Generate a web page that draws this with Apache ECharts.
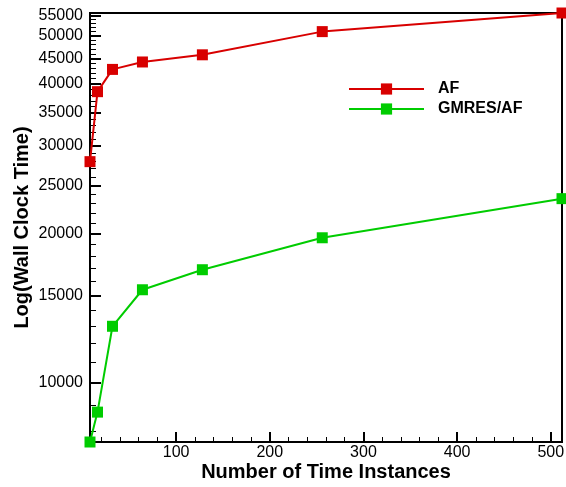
<!DOCTYPE html>
<html>
<head>
<meta charset="utf-8">
<script src="https://cdn.jsdelivr.net/npm/echarts@6/dist/echarts.min.js"></script>
<style>
  html, body { margin: 0; padding: 0; background: #fff; }
  #chart { width: 566px; height: 487px; }
</style>
</head>
<body>
<div id="chart"></div>
<script>
// Number of time instances (x) and wall clock time for each solver (log y)
const timeInstances = [8, 16, 32, 64, 128, 256, 512];
const afTimes = [27900, 38600, 42800, 44300, 45800, 51000, 55600];
const gmresAfTimes = [7600, 8730, 13000, 15400, 16900, 19600, 23500];

const seriesNames = ['AF', 'GMRES/AF'];
const seriesColors = ['#d80000', '#00cc00'];

// Axis ticks and labels
const xMajorTicks = [100, 200, 300, 400, 500];
const xMinorTicks = [20, 40, 60, 80, 120, 140, 160, 180, 220, 240, 260, 280,
  320, 340, 360, 380, 420, 440, 460, 480];
const yMajorTicks = [10000, 15000, 20000, 25000, 30000, 35000, 40000, 45000, 50000, 55000];
const yMinorTicks = [8000, 9000, 11000, 12000, 13000, 14000, 16000, 17000, 18000, 19000,
  21000, 22000, 23000, 24000, 26000, 27000, 28000, 29000, 31000, 32000, 33000, 34000,
  36000, 37000, 38000, 39000, 41000, 42000, 43000, 44000, 46000, 47000, 48000, 49000,
  51000, 52000, 53000, 54000];

const xRange = [8, 512];
const yRange = [7600, 55600];

const font = 'Liberation Sans, Arial, Helvetica, sans-serif';
const plain = (v) => String(Math.round(v));

const chart = echarts.init(document.getElementById('chart'), null, { renderer: 'canvas' });

const pairs = (ys) => timeInstances.map((x, i) => [x, ys[i]]);

chart.setOption({
  animation: false,
  backgroundColor: '#fff',
  grid: {
    left: 90, right: 4, top: 13, bottom: 45,
    outerBoundsMode: 'none', containLabel: false,
    show: true, borderColor: '#000', borderWidth: 2, backgroundColor: 'transparent'
  },
  legend: {
    orient: 'vertical',
    left: 348, top: 81, padding: 0,
    itemWidth: 75, itemHeight: 14, itemGap: 4,
    textStyle: { fontFamily: font, fontSize: 16, fontWeight: 'bold', color: '#000', padding: [0, 0, 0, 9] },
    data: seriesNames
  },
  xAxis: [{
    type: 'value', min: xRange[0], max: xRange[1],
    name: 'Number of Time Instances', nameLocation: 'middle', nameGap: 20, nameMoveOverlap: false,
    nameTextStyle: { fontFamily: font, fontSize: 20, fontWeight: 'bold', color: '#000' },
    axisLine: { lineStyle: { color: '#000', width: 2 } },
    axisTick: { inside: true, length: 10, customValues: xMajorTicks, lineStyle: { color: '#000', width: 2 } },
    axisLabel: { customValues: xMajorTicks, formatter: plain, margin: 3, fontFamily: font, fontSize: 16, color: '#000' },
    splitLine: { show: false }
  }, {
    type: 'value', min: xRange[0], max: xRange[1], position: 'bottom',
    axisLine: { show: false },
    axisTick: { inside: true, length: 5, customValues: xMinorTicks, lineStyle: { color: '#000', width: 1 } },
    axisLabel: { show: false },
    splitLine: { show: false }
  }],
  yAxis: [{
    type: 'log', min: yRange[0], max: yRange[1],
    name: 'Log(Wall Clock Time)', nameLocation: 'middle', nameGap: 58, nameRotate: 90, nameMoveOverlap: false,
    nameTextStyle: { fontFamily: font, fontSize: 20, fontWeight: 'bold', color: '#000' },
    axisLine: { lineStyle: { color: '#000', width: 2 } },
    axisTick: { inside: true, length: 11, customValues: yMajorTicks, lineStyle: { color: '#000', width: 2 } },
    axisLabel: { customValues: yMajorTicks, formatter: plain, margin: 7, fontFamily: font, fontSize: 16, color: '#000' },
    splitLine: { show: false }
  }, {
    type: 'log', min: yRange[0], max: yRange[1], position: 'left',
    axisLine: { show: false },
    axisTick: { inside: true, length: 6, customValues: yMinorTicks, lineStyle: { color: '#000', width: 1 } },
    axisLabel: { show: false },
    splitLine: { show: false }
  }],
  series: [afTimes, gmresAfTimes].map((ys, i) => ({
    name: seriesNames[i],
    type: 'line',
    xAxisIndex: 0, yAxisIndex: 0,
    data: pairs(ys),
    symbol: 'rect', symbolSize: 11,
    showAllSymbol: true,
    clip: false,
    lineStyle: { color: seriesColors[i], width: 2 },
    itemStyle: { color: seriesColors[i], borderWidth: 0 }
  }))
});
</script>
</body>
</html>
